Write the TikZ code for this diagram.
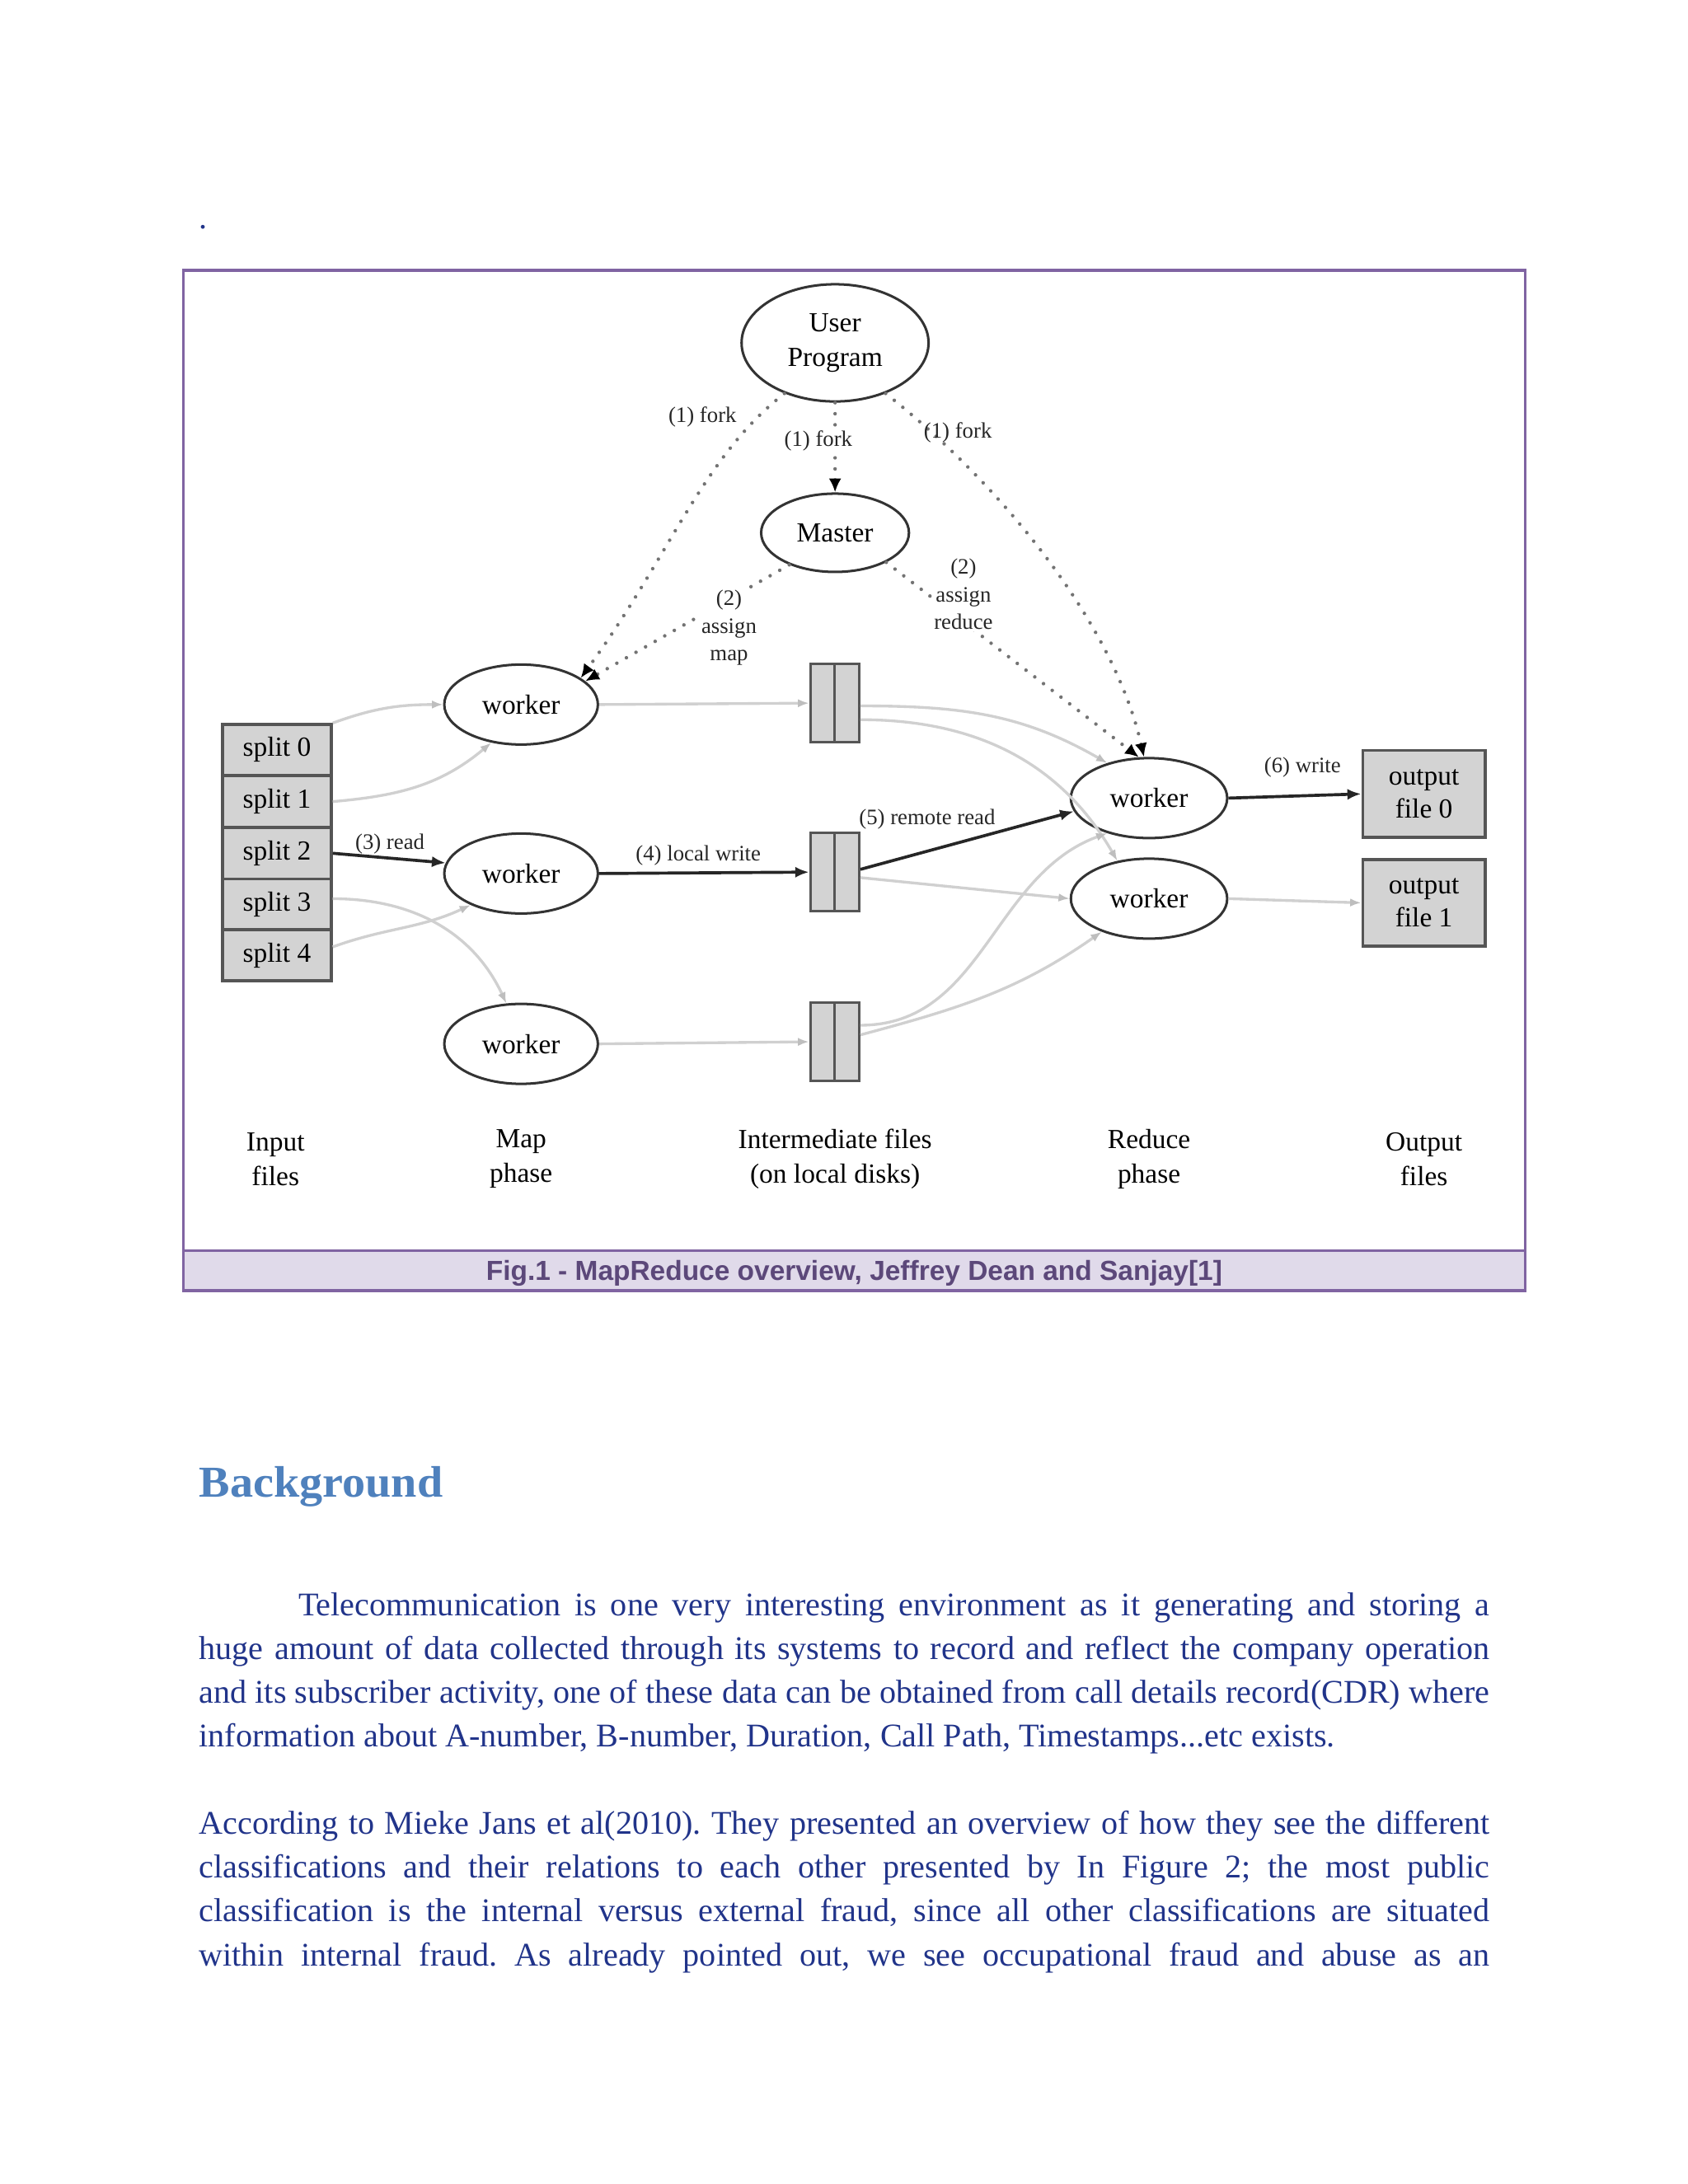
\documentclass[tikz,border=0pt]{standalone}
\usepackage{fontspec}
\setmainfont{Liberation Serif}
\newfontfamily\arialfont{Liberation Sans}
\usetikzlibrary{shapes.geometric,arrows.meta}
\frenchspacing
\definecolor{bodyblue}{RGB}{33,52,138}
\definecolor{headblue}{RGB}{79,129,189}
\definecolor{boxpurple}{RGB}{128,100,162}
\definecolor{capfill}{RGB}{224,218,234}
\definecolor{captext}{RGB}{92,72,122}
\definecolor{lightline}{RGB}{208,208,208}
\definecolor{lighttip}{RGB}{190,190,190}
\definecolor{boxfill}{RGB}{211,211,211}
\definecolor{boxedge}{RGB}{85,85,85}
\tikzset{
 ell/.style={ellipse, draw=black!80, line width=0.9pt, fill=white, inner sep=0, font=\fontsize{10}{12.5}\selectfont, align=center},
 splitbox/.style={rectangle, draw=boxedge, line width=1pt, fill=boxfill, minimum width=39.5pt, minimum height=18.5pt, inner sep=0, font=\fontsize{10}{12}\selectfont},
 halfbox/.style={rectangle, draw=boxedge, line width=0.9pt, fill=boxfill, minimum width=8.9pt, minimum height=28.3pt, inner sep=0},
 outbox/.style={rectangle, draw=boxedge, line width=1pt, fill=boxfill, minimum width=44.5pt, minimum height=31.4pt, inner sep=0, align=center, font=\fontsize{10}{12}\selectfont},
 lab/.style={font=\fontsize{8}{10}\selectfont, inner sep=0.5pt, text=black!85, align=center},
 botlab/.style={font=\fontsize{10}{12.5}\selectfont, align=center, inner sep=0},
 darkarrow/.style={draw=black!85, line width=1.1pt, -{Latex[length=5pt,width=4pt]}},
 lightarrow/.style={draw=lightline, line width=1pt, -{Latex[length=4pt,width=3pt,color=lighttip]}},
 dotline/.style={draw=black!55, line width=1.3pt, line cap=round, dash pattern=on 0pt off 4pt, -{Latex[length=5pt,width=4.5pt,color=black]}},
 bodyline/.style={anchor=base west, inner sep=0, text=bodyblue, font=\fontsize{12}{13.8}\selectfont},
}
\begin{document}
\begin{tikzpicture}[x=1pt,y=1pt]
\useasboundingbox (0,0) rectangle (612,-792);
\fill[white] (0,0) rectangle (612,-792);
% period
\node[bodyline] (dot) at (72,-83) {.};
% figure frame and caption
\draw[boxpurple, line width=1pt, fill=capfill] (66.5,-453.5) rectangle (553,-468);
\draw[boxpurple, line width=1pt] (66.5,-98) rectangle (553,-468);
\node[anchor=base, inner sep=0, font=\arialfont\bfseries\fontsize{10}{12}\selectfont, text=captext] (cap) at (309.75,-464.3) {Fig.1 - MapReduce overview, Jeffrey Dean and Sanjay[1]};

\begin{scope}[x=0.506pt, y=-0.5064pt, shift={(-0.8pt,1.25pt)}]
% nodes
\node[ell, minimum width=67.8pt, minimum height=42.5pt] (up) at (600,248) {User\\Program};
\node[ell, minimum width=53.6pt, minimum height=28.4pt] (m) at (600,384) {Master};
\node[ell, minimum width=55.7pt, minimum height=29pt] (w1) at (375,507) {worker};
\node[ell, minimum width=55.7pt, minimum height=29pt] (w2) at (375,628) {worker};
\node[ell, minimum width=55.7pt, minimum height=29pt] (w3) at (375,750) {worker};
\node[ell, minimum width=56.7pt, minimum height=29pt] (r1) at (825,574) {worker};
\node[ell, minimum width=56.7pt, minimum height=29pt] (r2) at (825,646) {worker};
\node[splitbox] (s0) at (200,539.5) {split 0};
\node[splitbox] (s1) at (200,576.5) {split 1};
\node[splitbox] (s2) at (200,613.5) {split 2};
\node[splitbox] (s3) at (200,650) {split 3};
\node[splitbox] (s4) at (200,686.5) {split 4};
\node[halfbox] (i1a) at (591,506) {};
\node[halfbox] (i1b) at (608.5,506) {};
\node[halfbox] (i2a) at (591,627) {};
\node[halfbox] (i2b) at (608.5,627) {};
\node[halfbox] (i3a) at (591,748.5) {};
\node[halfbox] (i3b) at (608.5,748.5) {};
\node[outbox] (o0) at (1022,571) {output\\file 0};
\node[outbox] (o1) at (1022,649) {output\\file 1};
% bottom labels
\node[botlab] (bin) at (199,832.5) {Input\\files};
\node[botlab] (bmap) at (375,832.5) {Map\\phase};
\node[botlab] (bint) at (600,832.5) {Intermediate files\\(on local disks)};
\node[botlab] (bred) at (825,832.5) {Reduce\\phase};
\node[botlab] (bout) at (1022,832.5) {Output\\files};
% dotted control connectors
\draw[dotline] (up.225) .. controls (505,330) and (482,400) .. (w1.24);
\draw[dotline] (m.215) -- (w1.20);
\draw[dotline] (up.270) -- (m.90);
\draw[dotline] (up.-45) .. controls (720,350) and (800,450) .. (r1.97);
\draw[dotline] (m.-30) -- (r1.104);
% light data connectors
\draw[lightarrow] (s0.north east) to[out=20,in=180] (w1.west);
\draw[lightarrow] (s1.east) to[out=5,in=220] (w1.232);
\draw[lightarrow] ([yshift=2pt]s3.east) to[out=0,in=115] (w3.110);
\draw[lightarrow] ([yshift=3pt]s4.east) to[out=20,in=205] (w2.212);
\draw[lightarrow] (w1.east) -- (i1a.west);
\draw[lightarrow] (w3.east) -- (i3a.west);
\draw[lightarrow] ([yshift=-1pt]i1b.east) to[out=0,in=150] (r1.140);
\draw[lightarrow] ([yshift=-6pt]i1b.east) to[out=0,in=120] (r2.130);
\draw[lightarrow] ([yshift=-2pt]i2b.east) -- (r2.west);
\draw[lightarrow] ([yshift=6pt]i3b.east) to[out=0,in=200] (r1.220);
\draw[lightarrow] ([yshift=2.5pt]i3b.east) to[out=15,in=215] (r2.215);
\draw[lightarrow] (r2.east) -- (o1.west);
% dark data connectors
\draw[darkarrow] (s2.east) -- (w2.172);
\draw[darkarrow] (w2.east) -- (i2a.west);
\draw[darkarrow] ([yshift=1pt]i2b.east) -- (r1.190);
\draw[darkarrow] (r1.east) -- (o0.west);
% labels
\node[lab] (lf1) at (505,301) {(1) fork};
\node[lab, fill=white] (lf2) at (588,318) {(1) fork};
\node[lab] (lf3) at (688,312) {(1) fork};
\node[lab, fill=white] (lam) at (524,452) {(2)\\assign\\map};
\node[lab, fill=white] (lar) at (692,428) {(2)\\assign\\reduce};
\node[lab] (lrd) at (281,607) {(3) read};
\node[lab] (llw) at (502,615) {(4) local write};
\node[lab] (lrr) at (666,589) {(5) remote read};
\node[lab] (lwr) at (935,552) {(6) write};
\end{scope}

% heading
\node[anchor=base west, inner sep=0, text=headblue, font=\bfseries\fontsize{16}{19}\selectfont] (head) at (72,-543) {\scalebox{1.05}[1]{Background}};
% paragraph 1
\node[bodyline] (p1a) at (108,-586) {\makebox[432pt][s]{Telecommunication is one very interesting environment as it generating and storing a}};
\node[bodyline] (p1b) at (72,-601.85) {\makebox[468pt][s]{huge amount of data collected through its systems to record and reflect the company operation}};
\node[bodyline] (p1c) at (72,-617.7) {\makebox[468pt][s]{and its subscriber activity, one of these data can be obtained from call details record(CDR) where}};
\node[bodyline] (p1d) at (72,-633.55) {information about A-number, B-number, Duration, Call Path, Timestamps...etc exists.};
% paragraph 2
\node[bodyline] (p2a) at (72,-665.25) {\makebox[468pt][s]{According to Mieke Jans et al(2010). They presented an overview of how they see the different}};
\node[bodyline] (p2b) at (72,-681.1) {\makebox[468pt][s]{classifications and their relations to each other presented by In Figure 2; the most public}};
\node[bodyline] (p2c) at (72,-696.95) {\makebox[468pt][s]{classification is the internal versus external fraud, since all other classifications are situated}};
\node[bodyline] (p2d) at (72,-712.8) {\makebox[468pt][s]{within internal fraud. As already pointed out, we see occupational fraud and abuse as an}};
\end{tikzpicture}
\end{document}
